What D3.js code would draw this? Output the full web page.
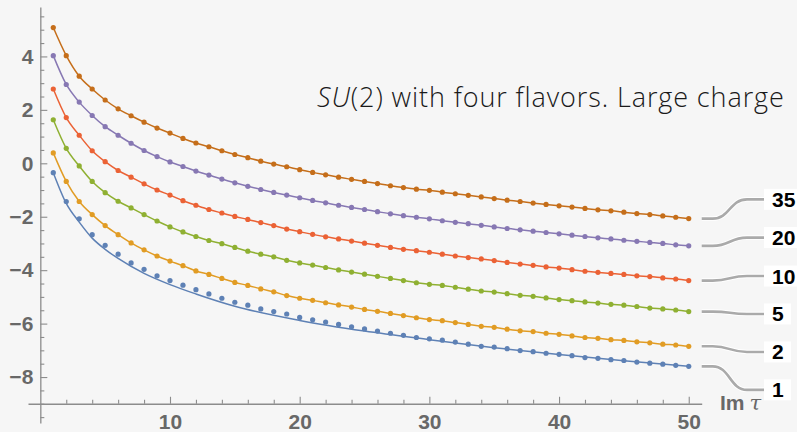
<!DOCTYPE html>
<html><head><meta charset="utf-8">
<script src="https://cdn.jsdelivr.net/npm/d3@7"></script>
<style>
html,body{margin:0;padding:0;background:#f6f6f6;}
svg{display:block;}
</style></head>
<body>
<svg id="c" width="797" height="432"></svg>
<script>
// ---- data ----
const xs = d3.range(1, 51);
const seriesLabels = ["1", "2", "5", "10", "20", "35"];
const colors = ["#5E81B5", "#E19C24", "#8FB032", "#EB6235", "#8778B3", "#C56E1A"];
const s1 = [-0.35,-1.43,-2.08,-2.67,-3.07,-3.40,-3.73,-3.97,-4.21,-4.39,-4.56,-4.73,-4.89,-5.05,-5.20,-5.31,-5.45,-5.55,-5.64,-5.77,-5.86,-5.94,-6.03,-6.12,-6.20,-6.28,-6.36,-6.44,-6.52,-6.57,-6.62,-6.69,-6.77,-6.85,-6.88,-6.94,-7.01,-7.05,-7.11,-7.15,-7.20,-7.27,-7.30,-7.35,-7.38,-7.44,-7.48,-7.52,-7.56,-7.60];
const s2 = [0.39,-0.68,-1.43,-1.92,-2.33,-2.67,-2.98,-3.24,-3.47,-3.66,-3.83,-4.03,-4.16,-4.31,-4.46,-4.57,-4.70,-4.81,-4.95,-5.05,-5.13,-5.22,-5.30,-5.38,-5.47,-5.54,-5.62,-5.70,-5.78,-5.85,-5.89,-5.96,-6.03,-6.10,-6.14,-6.21,-6.27,-6.30,-6.36,-6.40,-6.46,-6.52,-6.55,-6.60,-6.63,-6.68,-6.72,-6.77,-6.80,-6.85];
const s5 = [1.63,0.56,-0.10,-0.68,-1.10,-1.42,-1.67,-1.92,-2.16,-2.38,-2.57,-2.74,-2.89,-3.01,-3.15,-3.29,-3.40,-3.50,-3.63,-3.73,-3.81,-3.90,-3.99,-4.07,-4.15,-4.23,-4.31,-4.39,-4.47,-4.53,-4.57,-4.64,-4.71,-4.78,-4.82,-4.88,-4.94,-4.98,-5.04,-5.10,-5.14,-5.19,-5.23,-5.28,-5.31,-5.36,-5.42,-5.45,-5.49,-5.55];
const s10 = [2.78,1.71,1.05,0.47,0.06,-0.27,-0.52,-0.77,-1.00,-1.19,-1.40,-1.57,-1.73,-1.86,-1.99,-2.10,-2.22,-2.33,-2.46,-2.56,-2.66,-2.75,-2.83,-2.91,-2.99,-3.07,-3.15,-3.22,-3.27,-3.33,-3.40,-3.47,-3.53,-3.58,-3.64,-3.71,-3.77,-3.82,-3.88,-3.92,-3.98,-4.04,-4.08,-4.12,-4.16,-4.21,-4.24,-4.29,-4.33,-4.39];
const s20 = [4.03,2.95,2.29,1.79,1.37,1.05,0.75,0.48,0.25,0.05,-0.12,-0.29,-0.44,-0.59,-0.73,-0.86,-0.98,-1.09,-1.19,-1.29,-1.39,-1.48,-1.57,-1.65,-1.73,-1.81,-1.89,-1.96,-2.02,-2.08,-2.15,-2.21,-2.26,-2.32,-2.38,-2.44,-2.49,-2.54,-2.59,-2.64,-2.69,-2.74,-2.79,-2.83,-2.88,-2.92,-2.96,-3.00,-3.05,-3.09];
const s35 = [5.08,4.03,3.26,2.78,2.37,2.04,1.78,1.54,1.32,1.13,0.93,0.76,0.62,0.47,0.33,0.21,0.08,-0.03,-0.13,-0.24,-0.34,-0.43,-0.52,-0.60,-0.68,-0.76,-0.84,-0.91,-0.97,-1.01,-1.08,-1.14,-1.20,-1.26,-1.32,-1.38,-1.43,-1.49,-1.54,-1.59,-1.64,-1.69,-1.74,-1.78,-1.83,-1.88,-1.92,-1.97,-2.02,-2.07];
// fitted curve for series "1" (sits slightly below its points)
const fit1X = [1, 2, 3, 4, 5, 6, 8, 10, 12, 15, 20, 25, 30, 35, 40, 45, 50];
const fit1Y = [-0.35,-1.50,-2.20,-2.80,-3.22,-3.56,-4.12,-4.54,-4.89,-5.35,-5.88,-6.28,-6.60,-6.90,-7.16,-7.39,-7.60];
const seriesValues = [s1, s2, s5, s10, s20, s35];
const yMajor = [-8, -6, -4, -2, 0, 2, 4];
const xMajor = [10, 20, 30, 40, 50];
const titleItalic = "SU";
const titleRest = "(2) with four flavors. Large charge";
const xAxisLabel = "Im";
const xAxisSym = "τ";

// ---- layout ----
const svg = d3.select("#c");
svg.append("rect").attr("width", 797).attr("height", 432).attr("fill", "#f6f6f6");
const x = d3.scaleLinear().domain([-0.95, 51]).range([28, 701.7]);
const y = d3.scaleLinear().domain([-9.72, 5.85]).range([423, 7]);
const axisColor = "#8c8c8c";
const labelColor = "#686868";
const font = "'Liberation Sans', Arial, sans-serif";

// y axis
const yMinor = d3.range(-9.5, 5.8, 0.5).filter(v => !yMajor.includes(v));
const gy = svg.append("g").attr("transform", `translate(${x(0)},0)`);
gy.call(d3.axisLeft(y).tickValues(yMinor).tickSizeInner(-4).tickSizeOuter(0).tickFormat(""));
const gy2 = svg.append("g").attr("transform", `translate(${x(0)},0)`);
gy2.call(d3.axisLeft(y).tickValues(yMajor).tickSizeInner(-7).tickSizeOuter(0).tickPadding(7));
gy2.select(".domain").remove();
// x axis
const xMinor = d3.range(2, 51, 2).filter(v => !xMajor.includes(v));
const gx = svg.append("g").attr("transform", `translate(0,${y(-9)})`);
gx.call(d3.axisBottom(x).tickValues(xMinor).tickSizeInner(-4).tickSizeOuter(0).tickFormat(""));
const gx2 = svg.append("g").attr("transform", `translate(0,${y(-9)})`);
gx2.call(d3.axisBottom(x).tickValues(xMajor).tickSizeInner(-7).tickSizeOuter(0).tickPadding(10));
gx2.select(".domain").remove();

svg.selectAll(".domain").attr("stroke", axisColor).attr("stroke-width", 1.3);
svg.selectAll(".tick line").attr("stroke", axisColor).attr("stroke-width", 1.1);
svg.selectAll("g").attr("font-size", null).attr("font-family", null);
svg.selectAll(".tick text").attr("fill", labelColor)
  .style("font-family", font).style("font-weight", "bold").style("font-size", "21px");

// lines and points
const line = d3.line().x(d => x(d[0])).y(d => y(d[1])).curve(d3.curveMonotoneX);
seriesValues.forEach((vals, i) => {
  const pts = (i === 0) ? fit1X.map((v, j) => [v, fit1Y[j]]) : xs.map((v, j) => [v, vals[j]]);
  svg.append("path").attr("d", line(pts)).attr("fill", "none")
    .attr("stroke", colors[i]).attr("stroke-width", 1.5);
});
seriesValues.forEach((vals, i) => {
  svg.append("g").selectAll("circle").data(xs.map((v, j) => [v, vals[j]])).join("circle")
    .attr("cx", d => x(d[0])).attr("cy", d => y(d[1])).attr("r", 2.6)
    .attr("fill", colors[i]);
});

// callouts
const calloutY = [-8.48, -7.06, -5.64, -4.22, -2.78, -1.35];
seriesValues.forEach((vals, i) => {
  const x0 = x(51), y0 = y(vals[vals.length - 1]);
  const y1 = y(calloutY[i]);
  const a = x0 + 11, b = 747, e = 765;
  const d = `M${x0},${y0}H${a}C${(a + b) / 2},${y0} ${(a + b) / 2},${y1} ${b},${y1}H${e}`;
  svg.append("path").attr("d", d)
    .attr("fill", "none").attr("stroke", "#ffffff").attr("stroke-width", 4.5);
  svg.append("path").attr("d", d)
    .attr("fill", "none").attr("stroke", "#aaaaaa").attr("stroke-width", 2.6);
  const w = seriesLabels[i].length > 1 ? 34 : 27;
  svg.append("rect").attr("x", 764).attr("y", y1 - 10.5).attr("width", w).attr("height", 21)
    .attr("fill", "#ffffff");
  svg.append("text").attr("x", 772).attr("y", y1 + 7.5).attr("font-family", font)
    .attr("font-weight", "bold").attr("font-size", 21).attr("fill", "#000")
    .text(seriesLabels[i]);
});

// axis label
const al = svg.append("text").attr("x", 720).attr("y", 410).attr("font-family", font)
  .attr("font-size", 21).attr("fill", labelColor);
al.append("tspan").attr("font-weight", "bold").text(xAxisLabel);
al.append("tspan").attr("dx", 5).attr("font-style", "italic").attr("font-family", "'DejaVu Serif', serif").text(xAxisSym);

// title
const t = svg.append("text").attr("x", 317).attr("y", 107)
  .attr("font-family", "'Open Sans', Lato, sans-serif").attr("font-weight", 300)
  .attr("font-size", 27).attr("letter-spacing", 0.9).attr("fill", "#1a1a1a");
t.append("tspan").attr("font-style", "italic").text(titleItalic);
t.append("tspan").text(titleRest);
</script>
</body></html>
